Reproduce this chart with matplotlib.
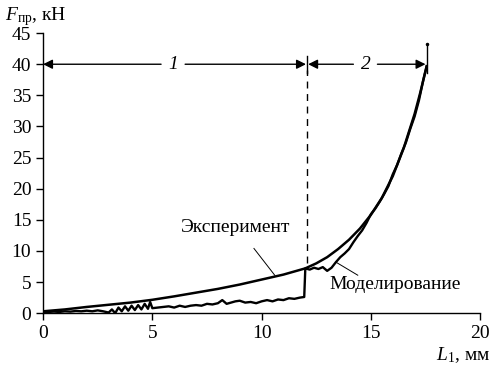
import matplotlib
matplotlib.use("Agg")
import matplotlib.pyplot as plt

plt.rcParams['font.family'] = 'Liberation Serif'
plt.rcParams['mathtext.fontset'] = 'custom'
plt.rcParams['mathtext.rm'] = 'Liberation Serif'
plt.rcParams['mathtext.it'] = 'Liberation Serif:italic'

# smooth curve (experiment)
exp_x = [0, 1, 2, 3, 4, 5, 6, 7, 8, 9, 10, 11, 12, 12.5, 13, 13.5, 14, 14.5,
         15, 15.5, 16, 16.5, 17, 17.25, 17.55]
exp_y = [0.3, 0.6, 1.0, 1.35, 1.7, 2.15, 2.7, 3.3, 3.9, 4.6, 5.4, 6.2, 7.2, 8.0,
         9.0, 10.3, 11.8, 13.6, 15.8, 18.5, 22.0, 26.5, 32.0, 35.3, 39.6]

# noisy curve (simulation)
sim_x = [0, 0.25, 0.5, 0.75, 1.0, 1.25, 1.5, 1.75, 2.0, 2.25, 2.5, 2.75, 3.0,
         3.15, 3.3, 3.45, 3.6, 3.75, 3.9, 4.05, 4.2, 4.35, 4.5, 4.65, 4.8, 4.9,
         5.0, 5.25, 5.5, 5.75, 6.0, 6.25, 6.5, 6.75, 7.0, 7.25, 7.5, 7.75, 8.0,
         8.2, 8.4, 8.6, 8.8, 9.0, 9.25, 9.5, 9.75, 10.0, 10.25, 10.5, 10.75,
         11.0, 11.25, 11.5, 11.75, 11.95, 12.0, 12.2, 12.4, 12.6, 12.8, 13.0,
         13.2, 13.4, 13.6, 13.8, 14.0, 14.2, 14.4, 14.6, 14.8, 15.0, 15.2, 15.4,
         15.6, 15.8, 16.0, 16.2, 16.4, 16.6, 16.8, 17.0, 17.2, 17.4, 17.55]
sim_y = [0.2, 0.2, 0.25, 0.2, 0.3, 0.25, 0.35, 0.3, 0.4, 0.3, 0.45, 0.3, 0.1,
         0.6, 0.0, 0.9, 0.3, 1.1, 0.4, 1.2, 0.5, 1.3, 0.6, 1.5, 0.7, 1.8,
         0.8, 0.9, 1.0, 1.1, 0.9, 1.2, 1.0, 1.2, 1.3, 1.2, 1.5, 1.4, 1.6,
         2.1, 1.5, 1.7, 1.9, 2.0, 1.7, 1.8, 1.6, 1.9, 2.1, 1.9, 2.2,
         2.1, 2.4, 2.3, 2.5, 2.6, 7.2, 7.0, 7.3, 7.1, 7.4, 6.8,
         7.3, 8.2, 9.0, 9.6, 10.3, 11.4, 12.4, 13.3, 14.5, 15.9, 16.8, 17.9,
         19.1, 20.4, 22.3, 23.8, 25.7, 27.4, 29.6, 31.6, 34.2, 37.5, 39.7]

x_ticks = [0, 5, 10, 15, 20]
y_ticks = [0, 5, 10, 15, 20, 25, 30, 35, 40, 45]
zone_edge = 12.08
zone_end = 17.55

fig = plt.figure(figsize=(4.95, 3.68), dpi=100)
ax = fig.add_axes([0.087, 0.149, 0.883, 0.761])

ax.plot(exp_x, exp_y, color='black', lw=1.8)
ax.plot(sim_x, sim_y, color='black', lw=1.7)

ax.set_xlim(0, 20)
ax.set_ylim(0, 45)
ax.set_xticks(x_ticks)
ax.set_yticks(y_ticks)
for s in ['top', 'right']:
    ax.spines[s].set_visible(False)
for s in ['left', 'bottom']:
    ax.spines[s].set_linewidth(1.0)
ax.tick_params(direction='out', length=5, width=1, labelsize=14)

# zone borders
ax.plot([zone_edge, zone_edge], [8, 39], color='black', lw=1, ls=(0, (5, 4)))
ax.plot([zone_edge, zone_edge], [38.6, 41.4], color='black', lw=1)
ax.plot([zone_end, zone_end], [38.6, 43.3], color='black', lw=1)
ax.plot([zone_end], [43.3], 'k.', ms=3)

ap = dict(arrowstyle='-|>', color='black', lw=1, mutation_scale=14, shrinkA=0, shrinkB=0)
ax.annotate('', xy=(0, 40), xytext=(5.4, 40), arrowprops=ap)
ax.annotate('', xy=(zone_edge - 0.05, 40), xytext=(6.5, 40), arrowprops=ap)
ax.annotate('', xy=(zone_edge + 0.05, 40), xytext=(14.2, 40), arrowprops=ap)
ax.annotate('', xy=(zone_end - 0.05, 40), xytext=(15.3, 40), arrowprops=ap)
ax.text(5.95, 40, '1', fontsize=14, style='italic', ha='center', va='center')
ax.text(14.75, 40, '2', fontsize=14, style='italic', ha='center', va='center')

# labels for curves
ax.text(8.8, 13.7, 'Эксперимент', fontsize=14, ha='center', va='center')
ax.plot([9.65, 10.6], [10.4, 6.1], color='black', lw=0.7)
ax.text(16.1, 4.6, 'Моделирование', fontsize=14, ha='center', va='center')
ax.plot([13.4, 14.4], [8.2, 6.1], color='black', lw=0.7)

fig.text(0.01, 0.955, r'$F_{\mathrm{пр}}$, кН', fontsize=14, ha='left', va='center')
fig.text(0.99, 0.035, r'$L_{1}$, мм', fontsize=14, ha='right', va='center')

fig.savefig('out.png', dpi=100)
